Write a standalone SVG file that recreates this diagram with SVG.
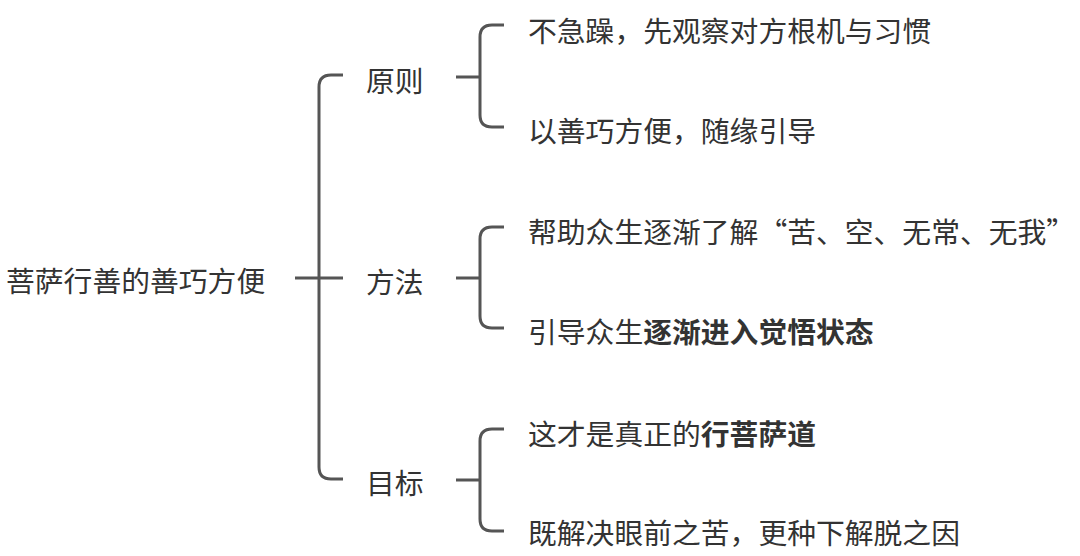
<svg xmlns="http://www.w3.org/2000/svg" width="1080" height="556" viewBox="0 0 1080 556">
<style>
text{font-family:"Noto Sans CJK SC","Noto Sans",sans-serif;font-size:28.8px;fill:#333;dominant-baseline:central}
.b{font-weight:bold}
.c{fill:none;stroke:#555;stroke-width:3;stroke-linecap:butt}
</style>
<rect width="1080" height="556" fill="#fff"/>
<g id="connectors">
<path class="c" d="M295,278 H343 M343,75 H331 Q319,75 319,87 V467 Q319,479 331,479 H343"/>
<path class="c" d="M456,77 H480 M504,25 H492 Q480,25 480,37 V115 Q480,127 492,127 H504"/>
<path class="c" d="M456,278 H480 M504,227 H492 Q480,227 480,239 V316 Q480,328 492,328 H504"/>
<path class="c" d="M456,480 H480 M504,429 H492 Q480,429 480,441 V519 Q480,531 492,531 H504"/>
</g>
<g id="root"><text x="6" y="279">菩萨行善的善巧方便</text></g>
<g id="n1"><text x="366" y="79">原则</text></g>
<g id="n2"><text x="366" y="280">方法</text></g>
<g id="n3"><text x="366" y="481">目标</text></g>
<g id="l1"><text x="528" y="29">不急躁，先观察对方根机与习惯</text></g>
<g id="l2"><text x="528" y="129">以善巧方便，随缘引导</text></g>
<g id="l3"><text x="528" y="230">帮助众生逐渐了解“苦、空、无常、无我”</text></g>
<g id="l4"><text x="528" y="330">引导众生<tspan class="b">逐渐进入觉悟状态</tspan></text></g>
<g id="l5"><text x="528" y="432">这才是真正的<tspan class="b">行菩萨道</tspan></text></g>
<g id="l6"><text x="528" y="531">既解决眼前之苦，更种下解脱之因</text></g>
</svg>
